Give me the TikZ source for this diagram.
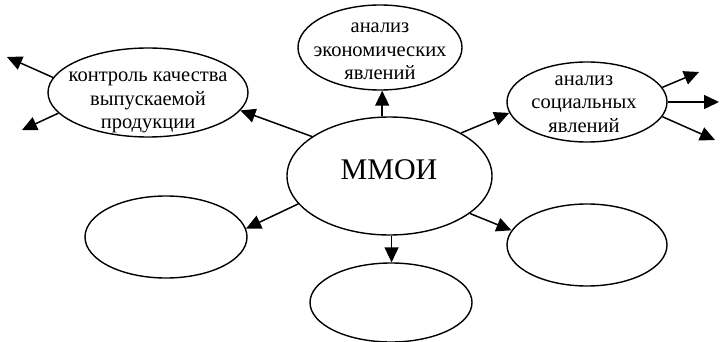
\documentclass[tikz,border=0pt]{standalone}
\usepackage{fontspec}
\setmainfont{Liberation Serif}
\usetikzlibrary{shapes.geometric,arrows.meta}
\tikzset{
  ell/.style={draw, ellipse, line width=1.4pt, inner sep=0pt},
  txt/.style={align=center, inner sep=0pt, font=\fontsize{20.5}{23.5}\selectfont},
  bigtxt/.style={inner sep=0pt, font=\fontsize{30}{34}\selectfont},
  arr/.style={line width=1.5pt, -{Triangle[length=15pt,width=14pt]}}
}
\begin{document}
\begin{tikzpicture}[x=1pt,y=-1pt]
\useasboundingbox (0,0) rectangle (720,342);
% ellipses
\node[ell, minimum width=200pt, minimum height=89pt] (lt) at (148,92.5) {};
\node[ell, minimum width=164pt, minimum height=85pt] (top) at (380,47.5) {};
\node[ell, minimum width=160pt, minimum height=80pt] (rt) at (587,102) {};
\node[ell, minimum width=205pt, minimum height=118pt] (c) at (389.5,176) {};
\node[ell, minimum width=162pt, minimum height=82pt] (ll) at (166,237) {};
\node[ell, minimum width=162pt, minimum height=79pt] (bc) at (391,302.5) {};
\node[ell, minimum width=160pt, minimum height=82pt] (lr) at (587,245) {};
% texts
\node[txt] (ltT) at (148,102.5) {контроль качества\\выпускаемой\\продукции};
\node[txt] (topT) at (380,51.5) {анализ\\экономических\\явлений};
\node[txt] (rtT) at (584,104) {анализ\\социальных\\явлений};
\node[bigtxt, anchor=base] (cT) at (389,179) {ММОИ};
% free ends
\coordinate (e1) at (7,57);
\coordinate (e2) at (22,130);
\coordinate (e3) at (699,72);
\coordinate (e4) at (719,102);
\coordinate (e5) at (715,140);
% connectors
\draw[arr] (c.153.9) -- (lt.-11.65);
\draw[arr] (c.97) -- (c.97 |- top.south);
\draw[arr] (c.31.4) -- (rt.-172.6);
\draw[arr] (c.197) -- (ll.6.5);
\draw[arr] (c.-88) -- (c.-88 |- bc.north);
\draw[arr] (c.-25.3) -- (lr.169.7);
\draw[arr] (lt.171) -- (e1);
\draw[arr] (lt.193.4) -- (e2);
\draw[arr] (rt.11.3) -- (e3);
\draw[arr] (rt.0) -- (e4);
\draw[arr] (rt.-11.3) -- (e5);
\end{tikzpicture}
\end{document}
